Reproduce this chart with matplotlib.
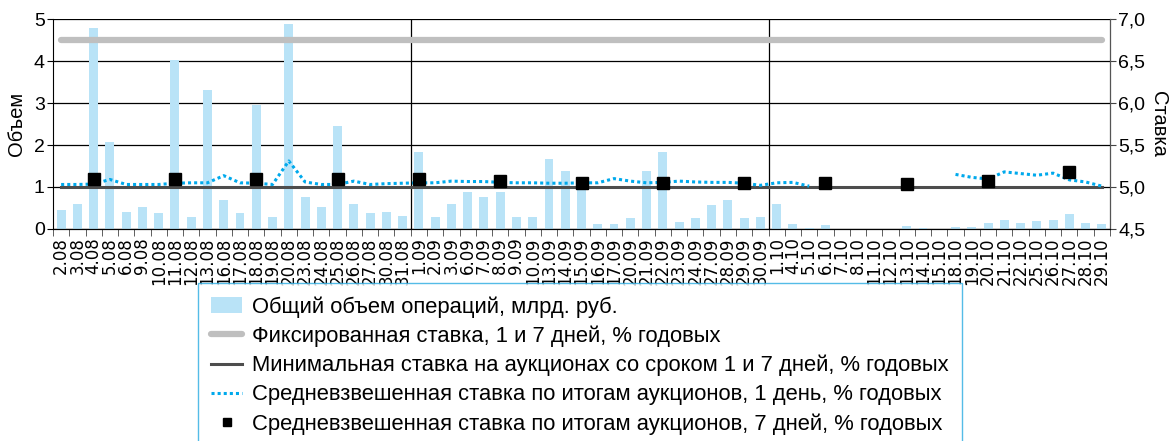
import matplotlib.pyplot as plt
import numpy as np
from matplotlib.ticker import FuncFormatter, FixedLocator

dates = ['2.08', '3.08', '4.08', '5.08', '6.08', '9.08', '10.08', '11.08', '12.08', '13.08',
         '16.08', '17.08', '18.08', '19.08', '20.08', '23.08', '24.08', '25.08', '26.08', '27.08',
         '30.08', '31.08',
         '1.09', '2.09', '3.09', '6.09', '7.09', '8.09', '9.09', '10.09', '13.09', '14.09',
         '15.09', '16.09', '17.09', '20.09', '21.09', '22.09', '23.09', '24.09', '27.09', '28.09',
         '29.09', '30.09',
         '1.10', '4.10', '5.10', '6.10', '7.10', '8.10', '11.10', '12.10', '13.10', '14.10',
         '15.10', '18.10', '19.10', '20.10', '21.10', '22.10', '25.10', '26.10', '27.10', '28.10',
         '29.10']

# total volume, bln rub
volume = [0.46, 0.60, 4.79, 2.08, 0.41, 0.53, 0.37, 4.03, 0.29, 3.32,
          0.70, 0.39, 2.96, 0.29, 4.87, 0.75, 0.53, 2.46, 0.60, 0.39,
          0.40, 0.31,
          1.84, 0.29, 0.60, 0.87, 0.75, 0.89, 0.29, 0.29, 1.67, 1.39,
          1.22, 0.13, 0.13, 0.27, 1.37, 1.84, 0.17, 0.25, 0.56, 0.70,
          0.27, 0.29,
          0.60, 0.12, 0.02, 0.10, 0.0, 0.0, 0.0, 0.0, 0.07, 0.02,
          0.0, 0.05, 0.05, 0.14, 0.21, 0.14, 0.19, 0.21, 0.36, 0.14,
          0.12]

fixed_rate = 6.75
min_rate = 5.0

nan = np.nan
rate_1d = [5.03, 5.03, 5.035, 5.09, 5.03, 5.03, 5.03, 5.045, 5.05, 5.05,
           5.135, 5.05, 5.045, 5.03, 5.31, 5.06, 5.03, 5.03, 5.07, 5.03,
           5.04, 5.045,
           5.05, 5.05, 5.07, 5.065, 5.065, 5.055, 5.05, 5.05, 5.045, 5.045,
           5.05, 5.05, 5.10, 5.07, 5.05, 5.055, 5.07, 5.06, 5.055, 5.055,
           5.045, 5.02,
           5.05, 5.055, 5.01, nan, nan, nan, nan, nan, nan, nan,
           nan, 5.15, 5.115, 5.095, 5.18, 5.16, 5.14, 5.165, 5.085, 5.06,
           5.01]

rate_7d_dates = ['4.08', '11.08', '18.08', '25.08', '1.09', '8.09', '15.09', '22.09',
                 '29.09', '6.10', '13.10', '20.10', '27.10']
rate_7d = [5.10, 5.10, 5.10, 5.09, 5.10, 5.07, 5.05, 5.05, 5.05, 5.05, 5.04, 5.07, 5.18]

month_breaks = [21.5, 43.5]

legend_labels = ['Общий объем операций, млрд. руб.',
                 'Фиксированная ставка, 1 и 7 дней, % годовых',
                 'Минимальная ставка на аукционах со сроком 1 и 7 дней, % годовых',
                 'Средневзвешенная ставка по итогам аукционов, 1 день, % годовых',
                 'Средневзвешенная ставка по итогам аукционов, 7 дней, % годовых']

plt.rcParams['font.family'] = ['Liberation Sans', 'DejaVu Sans']

x = np.arange(len(dates))
x7 = [dates.index(d) for d in rate_7d_dates]

fig = plt.figure(figsize=(11.72, 4.41), dpi=100)
ax = fig.add_axes([53 / 1172, 1 - 229 / 441, 1057 / 1172, 210 / 441])
ax2 = ax.twinx()

bars = ax.bar(x, volume, width=0.55, color='#b9e3f7', zorder=2)
ax.set_xlim(-0.5, len(dates) - 0.5)
ax.set_ylim(0, 5)
ax.set_yticks(range(6))
ax.set_axisbelow(True)
ax.yaxis.grid(True, color='black', linewidth=0.9, zorder=0)
for xb in month_breaks:
    ax.axvline(xb, color='black', linewidth=0.9, zorder=1)

ax.set_xticks(x)
ax.set_xticklabels(dates, rotation=90, fontsize=12, family='DejaVu Sans')
ax.tick_params(axis='x', which='major', length=0, pad=6)
ax.xaxis.set_minor_locator(FixedLocator(np.arange(-0.5, len(dates), 1)))
ax.tick_params(axis='x', which='minor', length=5, color='#444444')
ax.tick_params(axis='y', labelsize=14, length=4, pad=2)
ax.set_ylabel('Объем', fontsize=14.5)
ax.yaxis.set_label_coords(-0.026, 0.5)

ax2.set_ylim(4.5, 7.0)
ax2.set_yticks(np.arange(4.5, 7.01, 0.5))
ax2.yaxis.set_major_formatter(FuncFormatter(lambda v, p: f'{v:.1f}'.replace('.', ',')))
ax2.tick_params(axis='y', labelsize=14, length=4, pad=2, color='#444444')
ax2.set_ylabel('Ставка', fontsize=14.5, rotation=270)
ax2.yaxis.set_label_coords(1.055, 0.5)

l_fixed, = ax2.plot(x, [fixed_rate] * len(x), color='#bfbfbf', linewidth=4.5,
                    solid_capstyle='round')
l_min, = ax2.plot(x, [min_rate] * len(x), color='#4d4d4d', linewidth=2.2)
l_1d, = ax2.plot(x, rate_1d, color='#00a9ec', linewidth=2.2, linestyle=(0, (1, 1)))
l_7d, = ax2.plot(x7, rate_7d, linestyle='none', marker='s', markersize=8.5,
                 color='black')

for a in (ax, ax2):
    a.spines['top'].set_visible(False)
ax2.spines['right'].set_color('#555555')
ax2.spines['left'].set_visible(False)

leg = fig.legend([bars, l_fixed, l_min, l_1d, l_7d], legend_labels,
                 loc='upper left', bbox_to_anchor=(198 / 1172, 1 - 283 / 441),
                 bbox_transform=fig.transFigure, fontsize=15.8, frameon=True,
                 fancybox=False, edgecolor='#29abe2', borderaxespad=0,
                 borderpad=0.6, labelspacing=0.36, handlelength=1.4,
                 handletextpad=0.45, markerscale=0.6)
leg.get_frame().set_linewidth(1.0)

fig.savefig('out.png', dpi=100)
